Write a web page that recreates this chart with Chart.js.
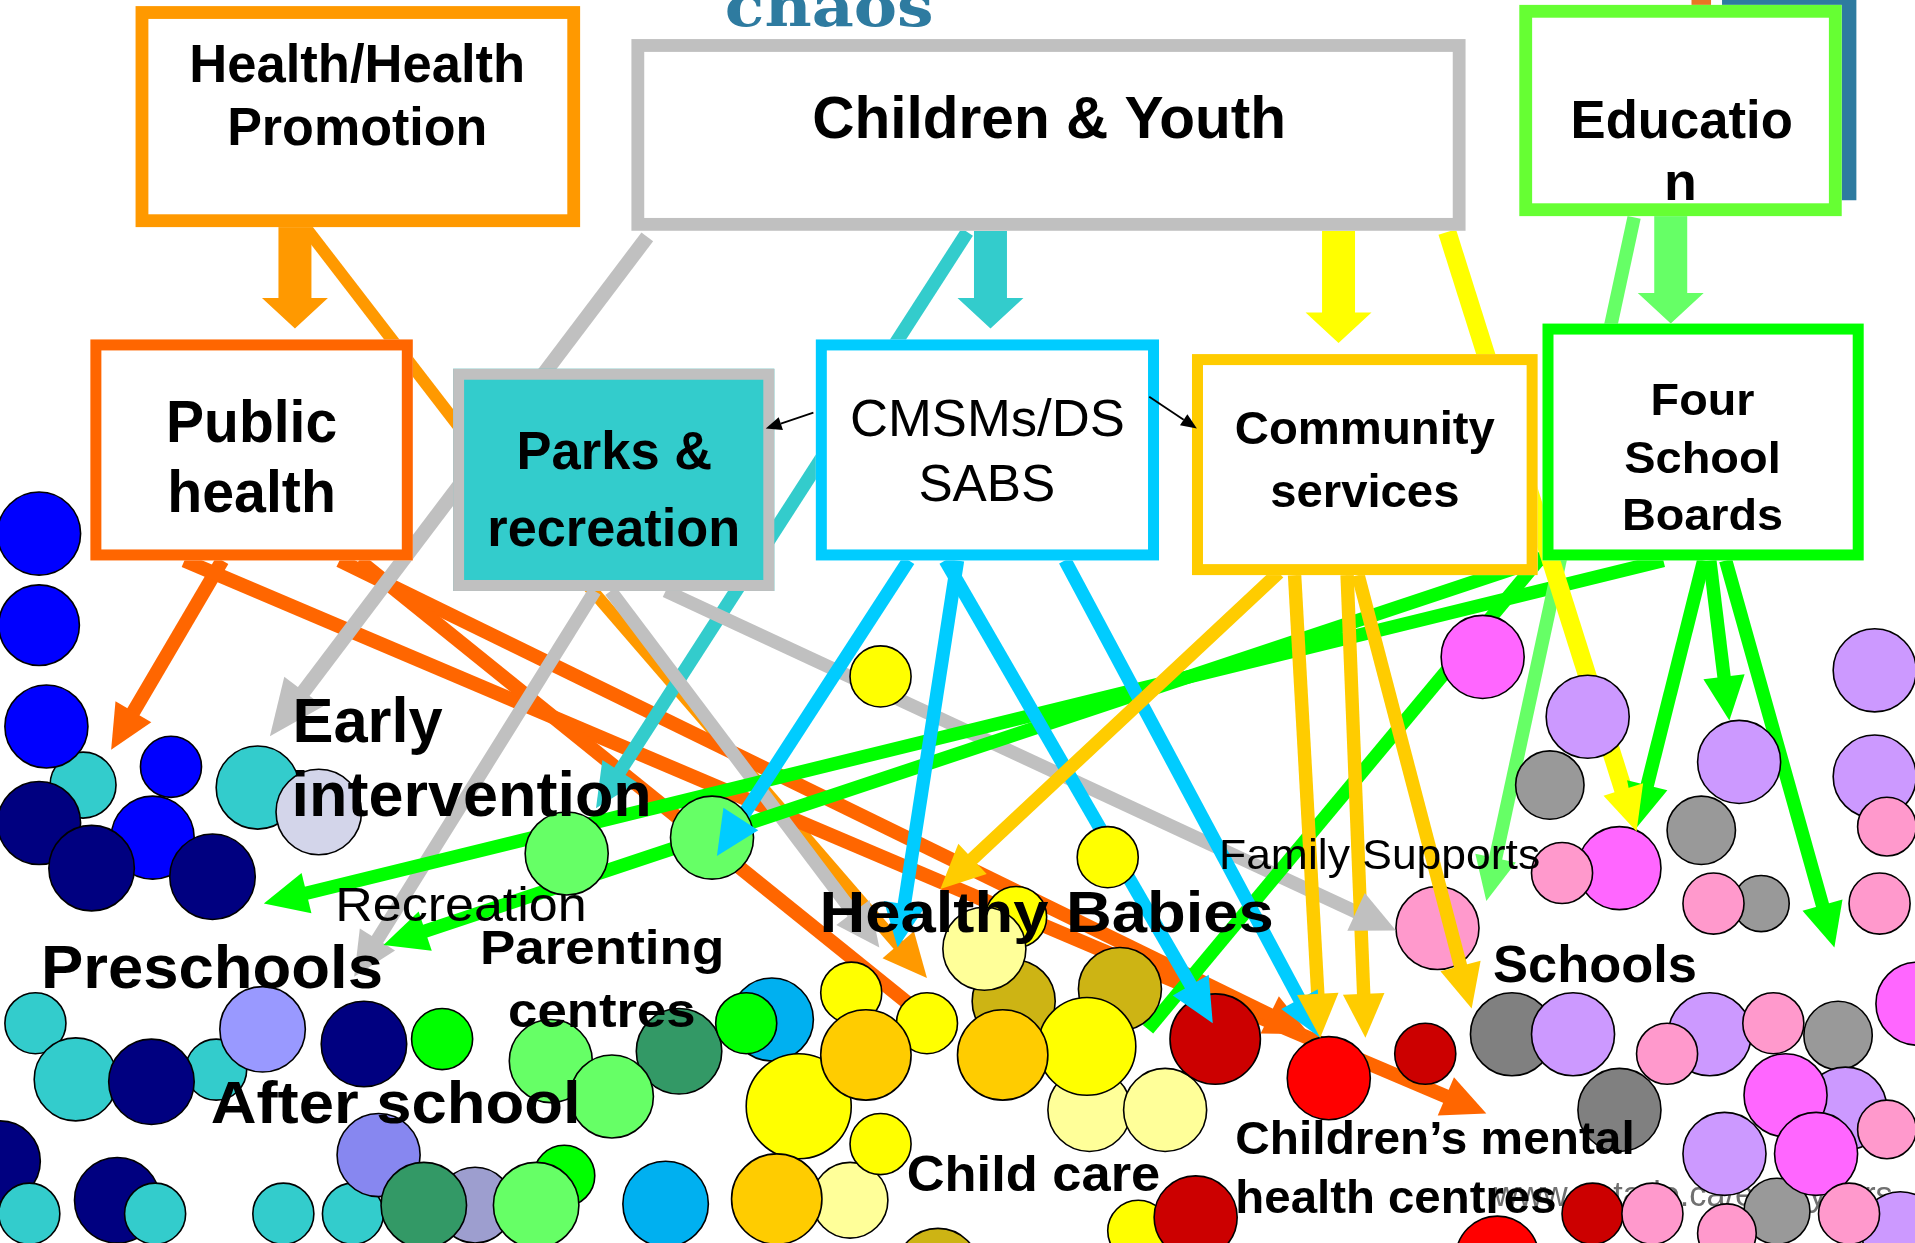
<!DOCTYPE html>
<html lang="en">
<head>
    <meta charset="UTF-8">
    <title>Early years services - chaos</title>
    <style>
        html, body { margin: 0; padding: 0; background: #fff; }
        #wrap { width: 1915px; height: 1243px; position: relative; }
    </style>
</head>
<body>
    <div id="wrap"><canvas id="chart"></canvas></div>

    <script src="https://cdn.jsdelivr.net/npm/chart.js"></script>

    <script>
        // Everything is placed in the 1568 x 1018 frame of the original slide
        const FRAME_W = 1568, FRAME_H = 1018;

        // services (circles): [x, y, r]
        const tealDots = [[68,643,27],[211,645,34],[29,838,25],[62,884,34],[177,876,25],[232,994,25],[289,994,25]];
        const tealFrontDots = [[24,994,25],[127,994,25]];
        const blueDots = [[32,437,34],[32,512,33],[38,595,34],[140,628,25],[125,686,34]];
        const navyDots = [[32,674,34],[75,711,35],[174,718,35],[124,886,35],[298,855,35],[0,951,33],[96,983,35]];
        const lavenderDots = [[261,665,35]];
        const periwinkleDots = [[215,843,35]];
        const cornflowerDots = [[310,946,34]];
        const slateDots = [[389,987,31]];
        const skyDots = [[632,835,34],[545,986,35]];
        const darkGreenDots = [[556,861,35],[347,987,35]];
        const greenDots = [[362,851,25],[611,838,25],[462,963,25]];
        const lightGreenDots = [[464,699,34],[583,686,34],[451,869,34],[501,898,34],[439,987,35]];
        const oliveDots = [[830,820,34],[917,810,34],[768,1040,34]];
        const yellowBackDots = [[832,751,25]];
        const paleYellowDots = [[806,777,34],[892,909,34],[954,909,34],[696,983,31]];
        const yellowDots = [[721,554,25],[907,702,25],[697,813,25],[759,838,25],[890,857,40],[654,906,43],[721,937,25],[932,1008,25]];
        const goldDots = [[709,864,37],[821,864,37],[636,982,37]];
        const darkRedDots = [[995,851,37],[1167,863,25],[979,997,34],[1304,994,25]];
        const redDots = [[1088,883,34],[1226,1030,34]];
        const grayDots = [[1269,643,28],[1393,680,28],[1442,740,23],[1505,848,28],[1455,992,27]];
        const darkGrayDots = [[1238,847,34],[1326,909,34]];
        const lilacDots = [[1300,587,34],[1424,624,34],[1535,549,34],[1535,636,34],[1288,847,34],[1400,847,34],[1511,908,34],[1412,945,34],[1556,1008,32]];
        const magentaDots = [[1214,538,34],[1326,711,34],[1462,897,34],[1487,945,34],[1570,822,34]];
        const pinkDots = [[1279,715,25],[1177,760,34],[1403,740,25],[1545,677,24],[1539,740,25],[1365,863,25],[1452,838,25],[1545,925,24],[1514,994,25],[1353,994,25],[1414,1010,24]];

        // bottom layer first
        const dotGroups = [
            [tealDots, '#33CCCC'], [blueDots, '#0000FF'], [navyDots, '#000080'], [tealFrontDots, '#33CCCC'],
            [lavenderDots, '#D3D5EA'], [periwinkleDots, '#9999FF'], [cornflowerDots, '#8787F0'], [slateDots, '#9D9ECF'],
            [skyDots, '#00B0F0'], [darkGreenDots, '#339966'], [greenDots, '#00FF00'], [lightGreenDots, '#66FF66'],
            [oliveDots, '#CDB414'], [yellowBackDots, '#FFFF00'], [paleYellowDots, '#FFFF99'], [yellowDots, '#FFFF00'],
            [goldDots, '#FFCC00'], [darkRedDots, '#CC0000'], [redDots, '#FF0000'], [grayDots, '#999999'],
            [darkGrayDots, '#808080'], [lilacDots, '#CC99FF'], [magentaDots, '#FF66FF'], [pinkDots, '#FF99CC']
        ];

        // organisations (boxes)
        const boxNames = ['Health/Health Promotion', 'Children & Youth', 'Education', 'Public health', 'Parks & recreation', 'CMSMs/DSSABS', 'Community services', 'Four School Boards'];
        const boxRects = [[111,5,475,186],[517,32,1200,189],[1244,4,1508,177],[74,278,338,459],[371,302,634,484],[668,278,949,459],[976,290,1259,471],[1263,265,1526,459]];
        const boxBorders = ['#FF9900','#C0C0C0','#66FF33','#FF6600','#C0C0C0','#00CCFF','#FFCC00','#00FF00'];
        const boxFills = ['#fff','#fff','#fff','#fff','#33CCCC','#fff','#fff','#fff'];

        // links: [x1, y1, x2, y2, head]  (head 0 none, 1 normal, 2 large)
        const healthLinks = [[250,186,430,420,0],[430,420,759,801,1]];
        const publicHealthLinks = [[182,459,91,614,1],[151,459,1217,912,1],[278,459,1072,847,1],[294,459,760,835,0]];
        const youthGrayLinks = [[530,194,221,603,2]];
        const youthTealLinks = [[792,190,488,662,1]];
        const youthYellowLinks = [[1185,190,1340,681,1]];
        const parksLinks = [[487,484,290,800,1],[500,484,720,776,1],[545,484,1143,762,1]];
        const cmsmLinks = [[744,459,587,701,1],[784,459,735,776,1],[774,459,993,838,1],[872,459,1081,850,1]];
        const communityLinks = [[1047,469,770,728,1],[1060,471,1081,850,1],[1103,471,1118,850,1],[1112,471,1205,826,1]];
        const educationLinks = [[1338,178,1217,738,1]];
        const boardLinks = [[1362,459,216,740,1],[1265,457,314,774,1],[1263,455,940,843,0],[1395,459,1340,678,1],[1400,459,1416,590,1],[1413,459,1502,776,1]];
        const cmsmSideLinks = [[666,338,627,351],[941,325,980,351]];

        // thick block arrows: [x, yFrom, yTip]
        const blockArrows = [[241.5,186,269],[811,189,269],[1096,189,281],[1368,177,265]];
        const blockColors = ['#FF9900','#33CCCC','#FFFF00','#66FF66'];

        const linkStyles = [
            { links: healthLinks, color: '#FF9900', width: 10, top: false },
            { links: publicHealthLinks, color: '#FF6600', width: 11.5, top: false },
            { links: youthGrayLinks, color: '#C0C0C0', width: 12, top: false },
            { links: youthTealLinks, color: '#33CCCC', width: 11, top: false },
            { links: parksLinks, color: '#C0C0C0', width: 11, top: false },
            { links: boardLinks, color: '#00FF00', width: 11, top: false },
            { links: educationLinks, color: '#66FF66', width: 11, top: false },
            { links: youthYellowLinks, color: '#FFFF00', width: 15, top: false },
            { links: cmsmLinks, color: '#00CCFF', width: 11, top: false },
            { links: communityLinks, color: '#FFCC00', width: 11, top: true }
        ];

        // text: [text, centre x, baseline y, size, weight, width]
        const boxText = [
            ['Health/Health', 292.5, 67, 44, 700, 275], ['Promotion', 292.5, 119, 44, 700, 213],
            ['Children & Youth', 859, 113, 48, 700, 388],
            ['Educatio', 1377, 112.7, 44, 700, 182], ['n', 1376, 164, 44, 700, 0],
            ['Public', 206, 361.6, 48, 700, 140], ['health', 206, 419, 48, 700, 138],
            ['Parks &', 503, 384, 44, 700, 160], ['recreation', 502.5, 446.8, 44, 700, 207],
            ['CMSMs/DS', 808.5, 357, 42, 400, 225], ['SABS', 808, 410, 42, 400, 112],
            ['Community', 1117.5, 364, 38.5, 700, 213], ['services', 1117.5, 415, 38.5, 700, 155],
            ['Four', 1394, 340, 37, 700, 85], ['School', 1394, 387.5, 37, 700, 128], ['Boards', 1394, 433.8, 37, 700, 132]
        ];
        const serviceText = [
            ['Early', 301, 607.3, 51, 700, 123], ['intervention', 386.2, 668.7, 51, 700, 295],
            ['Recreation', 377.4, 754, 39, 400, 206],
            ['Preschools', 173.6, 809.4, 50, 700, 280],
            ['Parenting', 493, 789.4, 39, 700, 200], ['centres', 492.8, 841.2, 39, 700, 153.5],
            ['After school', 324, 919.7, 48, 700, 303],
            ['Healthy Babies', 857, 763.4, 47, 700, 372],
            ['Child care', 846.2, 975.6, 41, 700, 207.6],
            ['Family Supports', 1129.6, 711.7, 35, 400, 263],
            ['Schools', 1306, 804.4, 42, 700, 167],
            ['Children\u2019s mental', 1175, 945, 38, 700, 327], ['health centres', 1143, 993.5, 38, 700, 263]
        ];

        function drawText(ctx, k, px, py, row, family) {
            const [t, x, y, size, weight, width] = row;
            ctx.font = `${weight} ${size * k}px ${family || '"Liberation Sans", Arial, sans-serif'}`;
            const natural = ctx.measureText(t).width;
            const sx = width ? (width * k) / natural : 1;
            ctx.save();
            ctx.translate(px(x), py(y));
            ctx.scale(sx, 1);
            ctx.textAlign = 'center';
            ctx.textBaseline = 'alphabetic';
            ctx.fillText(t, 0, 0);
            ctx.restore();
        }

        function headGeom(l, k, px, py) {
            const x1 = px(l[0]), y1 = py(l[1]), x2 = px(l[2]), y2 = py(l[3]);
            const len = Math.hypot(x2 - x1, y2 - y1);
            const ux = (x2 - x1) / len, uy = (y2 - y1) / len;
            const L = (l[4] === 2 ? 46 : 36) * k, H = (l[4] === 2 ? 20 : 17) * k;
            return { x1, y1, x2, y2, ux, uy, L, H };
        }

        function drawShafts(ctx, k, px, py, style) {
            ctx.strokeStyle = style.color;
            ctx.lineWidth = style.width * k;
            ctx.lineCap = 'butt';
            style.links.forEach(l => {
                const g = headGeom(l, k, px, py);
                const back = l[4] ? g.L * 0.8 : 0;
                ctx.beginPath();
                ctx.moveTo(g.x1, g.y1);
                ctx.lineTo(g.x2 - g.ux * back, g.y2 - g.uy * back);
                ctx.stroke();
            });
        }

        function drawHeads(ctx, k, px, py, style) {
            ctx.fillStyle = style.color;
            style.links.forEach(l => {
                if (!l[4]) return;
                const g = headGeom(l, k, px, py);
                const bx = g.x2 - g.ux * g.L, by = g.y2 - g.uy * g.L;
                ctx.beginPath();
                ctx.moveTo(g.x2, g.y2);
                ctx.lineTo(bx - g.uy * g.H, by + g.ux * g.H);
                ctx.lineTo(bx + g.uy * g.H, by - g.ux * g.H);
                ctx.closePath();
                ctx.fill();
            });
        }

        const diagram = {
            id: 'diagram',
            beforeDatasetsDraw(chart) {
                const ctx = chart.ctx, k = chart.width / FRAME_W;
                const px = v => chart.scales.x.getPixelForValue(v);
                const py = v => chart.scales.y.getPixelForValue(v);
                ctx.save();
                // faint web address, mostly hidden by the circles
                ctx.fillStyle = '#707070';
                ctx.font = `${28 * k}px "Liberation Sans", Arial, sans-serif`;
                ctx.textAlign = 'left';
                ctx.fillText('www.ontario.ca/earlyyears', px(1223), py(988));

                linkStyles.filter(s => !s.top).forEach(s => drawShafts(ctx, k, px, py, s));

                blockArrows.forEach((b, i) => {
                    const [x, y0, y1] = b;
                    ctx.fillStyle = blockColors[i];
                    ctx.beginPath();
                    ctx.moveTo(px(x - 13.5), py(y0));
                    ctx.lineTo(px(x + 13.5), py(y0));
                    ctx.lineTo(px(x + 13.5), py(y1 - 25));
                    ctx.lineTo(px(x + 27), py(y1 - 25));
                    ctx.lineTo(px(x), py(y1));
                    ctx.lineTo(px(x - 27), py(y1 - 25));
                    ctx.lineTo(px(x - 13.5), py(y1 - 25));
                    ctx.closePath();
                    ctx.fill();
                });
                ctx.restore();
            },
            afterDatasetsDraw(chart) {
                const ctx = chart.ctx, k = chart.width / FRAME_W;
                const px = v => chart.scales.x.getPixelForValue(v);
                const py = v => chart.scales.y.getPixelForValue(v);
                ctx.save();
                linkStyles.filter(s => s.top).forEach(s => drawShafts(ctx, k, px, py, s));
                linkStyles.forEach(s => drawHeads(ctx, k, px, py, s));

                // slide decoration behind the Education box
                ctx.fillStyle = '#2E7BA0';
                ctx.fillRect(px(1410), py(0), px(1520) - px(1410), py(164) - py(0));
                ctx.fillStyle = '#E87722';
                ctx.fillRect(px(1385), py(0), px(1401) - px(1385), py(5) - py(0));

                // boxes
                boxRects.forEach((r, i) => {
                    const bw = (i >= 3 ? 9 : 10.5) * k;
                    const x0 = px(r[0]), y0 = py(r[1]), x1 = px(r[2]), y1 = py(r[3]);
                    ctx.fillStyle = boxFills[i];
                    ctx.fillRect(x0, y0, x1 - x0, y1 - y0);
                    ctx.strokeStyle = boxBorders[i];
                    ctx.lineWidth = bw;
                    ctx.strokeRect(x0 + bw / 2, y0 + bw / 2, x1 - x0 - bw, y1 - y0 - bw);
                });

                // thin black arrows between CMSMs and neighbours
                ctx.strokeStyle = '#000';
                ctx.fillStyle = '#000';
                ctx.lineWidth = 1.5 * k;
                cmsmSideLinks.forEach(l => {
                    const x1 = px(l[0]), y1 = py(l[1]), x2 = px(l[2]), y2 = py(l[3]);
                    const len = Math.hypot(x2 - x1, y2 - y1);
                    const ux = (x2 - x1) / len, uy = (y2 - y1) / len;
                    const L = 13 * k, H = 5.5 * k;
                    ctx.beginPath();
                    ctx.moveTo(x1, y1);
                    ctx.lineTo(x2 - ux * L, y2 - uy * L);
                    ctx.stroke();
                    ctx.beginPath();
                    ctx.moveTo(x2, y2);
                    ctx.lineTo(x2 - ux * L - uy * H, y2 - uy * L + ux * H);
                    ctx.lineTo(x2 - ux * L + uy * H, y2 - uy * L - ux * H);
                    ctx.closePath();
                    ctx.fill();
                });

                ctx.fillStyle = '#000';
                boxText.forEach(row => drawText(ctx, k, px, py, row));
                serviceText.forEach(row => drawText(ctx, k, px, py, row));

                // slide title, cut off at the top edge
                ctx.fillStyle = '#2E7BA0';
                drawText(ctx, k, px, py, ['chaos', 679, 21, 46, 700, 171], '"DejaVu Serif", serif');
                ctx.restore();
            }
        };

        const datasets = dotGroups.map(([dots, color], i) => ({
            label: color,
            data: dots.map(d => ({ x: d[0], y: d[1], size: d[2] })),
            backgroundColor: color,
            borderColor: '#000',
            borderWidth: 1.6,
            radius: c => (c.raw ? c.raw.size : 0) * c.chart.width / FRAME_W,
            hoverRadius: 0,
            clip: false,
            order: dotGroups.length - i
        }));

        new Chart(document.getElementById('chart'), {
            type: 'bubble',
            data: { datasets },
            options: {
                responsive: true,
                maintainAspectRatio: false,
                animation: false,
                events: [],
                layout: { padding: 0, autoPadding: false },
                plugins: { legend: { display: false }, tooltip: { enabled: false } },
                scales: {
                    x: { type: 'linear', min: 0, max: FRAME_W, display: false },
                    y: { type: 'linear', min: 0, max: FRAME_H, reverse: true, display: false }
                }
            },
            plugins: [diagram]
        });
    </script>
</body>
</html>
